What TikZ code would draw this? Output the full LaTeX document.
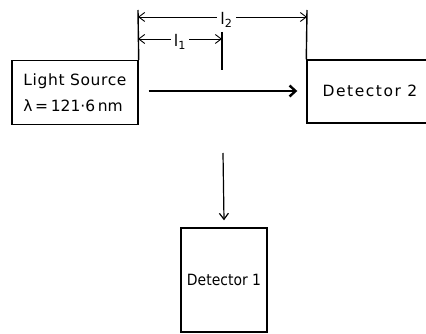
\documentclass[tikz,border=0pt]{standalone}
\usepackage{fontspec}
\setmainfont{DejaVu Sans}
\newfontfamily\condfont{DejaVu Sans Condensed}
\usetikzlibrary{positioning,arrows.meta}

\begin{document}
\begin{tikzpicture}[
		x=1pt, y=-1pt,
		>={Straight Barb[length=6pt,width=9pt]},
		box/.style={draw, line width=1.4pt, inner sep=0pt, font=\fontsize{15.5}{20}\selectfont},
		dimline/.style={<->, line width=0.9pt},
		dimlabel/.style={fill=white, inner sep=3pt, yshift=-3pt, font=\fontsize{16}{18}\selectfont},
		beam/.style={->, line width=2.4pt, >={Straight Barb[length=6pt,width=11pt]}}
	]
	\useasboundingbox (0,0) rectangle (426,334);

	% Nodes
	\node[box, minimum width=126pt, minimum height=64pt, align=left] (src) at (75,92.5)
		{\addfontfeature{LetterSpace=4}Light Source\\[6pt]λ\,=\,121·6\,nm};
	\node[box, minimum width=126pt, minimum height=63pt] (det2) at (370,91.5) {};
	\node[font=\fontsize{15.5}{20}\selectfont\addfontfeature{LetterSpace=10}] (det2text) at (370,91) {Detector 2};
	\node[box, minimum width=86pt, minimum height=104pt, font=\fontsize{15.5}{20}\condfont] (det1) at (224,280) {Detector 1};

	\coordinate (top1) at (138,10);
	\coordinate (top2) at (307,10);
	\coordinate (ticktop) at (222,32);
	\coordinate (tickbot) at (222,70);
	\coordinate (drop) at (223,153);

	% Lines
	\draw[line width=1.4pt] (src.north east) -- (top1);
	\draw[line width=1.4pt] (det2.north west) -- (top2);
	\draw[line width=1.4pt] (ticktop) -- (tickbot);

	% Arrows
	\draw[dimline] (top1 |- 0,17) -- node[dimlabel, xshift=4pt] {l\textsubscript{2}} (top2 |- 0,17);
	\draw[dimline] (top1 |- 0,39) -- node[dimlabel] {l\textsubscript{1}} (ticktop |- 0,39);
	\draw[beam] (src.east |- 0,91) ++(10,0) -- ([xshift=-9pt]det2.west |- 0,91);
	\draw[->, line width=1.2pt] (drop) -- ([yshift=7pt]det1.north);
\end{tikzpicture}
\end{document}
